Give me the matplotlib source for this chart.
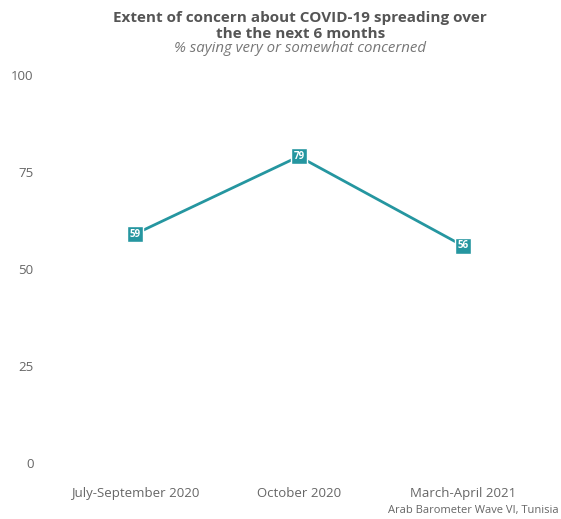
import matplotlib
matplotlib.use("Agg")
import matplotlib.pyplot as plt

categories = ["July-September 2020", "October 2020", "March-April 2021"]
values = [59, 79, 56]
yticks = [0, 25, 50, 75, 100]

plt.rcParams['font.family'] = ['Open Sans', 'DejaVu Sans']
color = "#2596a0"

fig = plt.figure(figsize=(5.61, 5.19), dpi=100)
ax = fig.add_axes([0.0945, 0.108, 0.8765, 0.7475])
x = list(range(len(categories)))
ax.plot(x, values, color=color, lw=2, marker='s', ms=12, mfc=color, mec='white', mew=1, zorder=3)
for xi, v in zip(x, values):
    ax.text(xi, v, str(v), color='white', fontsize=7, fontweight='bold', ha='center', va='center', zorder=4)
ax.set_xlim(-0.5, 2.5)
ax.set_ylim(0, 100)
ax.set_yticks(yticks)
ax.set_xticks(x)
ax.set_xticklabels(categories)
for s in ax.spines.values():
    s.set_visible(False)
ax.tick_params(length=0, colors='#666666', labelsize=9.5)
ax.tick_params(axis='x', pad=17)
ax.tick_params(axis='y', pad=14)

fig.text(0.535, 1 - 18 / 519, "Extent of concern about COVID-19 spreading over",
         ha='center', va='center', fontsize=11, fontweight='bold', color='#555555')
fig.text(0.535, 1 - 34 / 519, "the the next 6 months",
         ha='center', va='center', fontsize=11, fontweight='bold', color='#555555')
fig.text(0.535, 1 - 48 / 519, "% saying very or somewhat concerned", ha='center', va='center',
         fontsize=10.8, style='italic', color='#777777')
fig.text(0.995, 1 - 510 / 519, "Arab Barometer Wave VI, Tunisia", ha='right', va='center', fontsize=8, color='#666666')

fig.savefig("out.png", dpi=100)
